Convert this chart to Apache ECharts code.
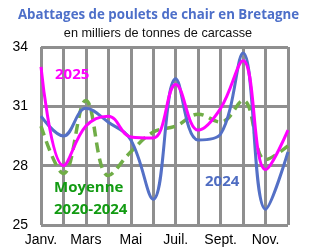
<!DOCTYPE html>
<html>
<head>
<meta charset="utf-8">
<script src="https://cdn.jsdelivr.net/npm/echarts@6/dist/echarts.min.js"></script>
<style>html,body{margin:0;padding:0;background:#fff}#c{width:320px;height:252px}</style>
</head>
<body>
<div id="c"></div>
<script>
const months = ['Janv.', 'Févr.', 'Mars', 'Avr.', 'Mai', 'Juin', 'Juil.', 'Août', 'Sept.', 'Oct.', 'Nov.', 'Déc.'];
const values2025 = [33.0, 28.0, 30.0, 30.5, 29.45, 29.4, 32.1, 29.8, 30.9, 33.3, 27.8, 29.8];
const values2024 = [30.5, 29.5, 30.9, 30.2, 29.3, 26.3, 32.4, 29.3, 29.6, 33.7, 25.8, 28.7];
const valuesAvg = [30.0, 27.6, 31.3, 27.5, 28.7, 29.7, 30.0, 30.6, 30.2, 31.3, 28.3, 29.0];
const yTicks = [25, 28, 31, 34];

const chart = echarts.init(document.getElementById('c'), null, {renderer: 'canvas'});
const grey = '#8f8f8f';
chart.setOption({
  animation: false,
  backgroundColor: '#fff',
  grid: {left: 41, right: 32, top: 47, bottom: 27, containLabel: false},
  graphic: [
    {type: 'text', x: 158.5, y: 15, style: {text: 'Abattages de poulets de chair en Bretagne', fill: '#4d6fc9', font: 'bold 13.3px "Open Sans"', textAlign: 'center', textVerticalAlign: 'middle'}},
    {type: 'text', x: 158, y: 33, style: {text: 'en milliers de tonnes de carcasse', fill: '#111', font: '12.7px "Liberation Sans"', textAlign: 'center', textVerticalAlign: 'middle'}},
    {type: 'text', x: 55, y: 75, z: 10, style: {text: '2025', fill: '#ff00ff', font: 'bold 15px "Open Sans"', textAlign: 'left', textVerticalAlign: 'middle'}},
    {type: 'text', x: 205, y: 182, z: 10, style: {text: '2024', fill: '#4f6dc2', font: 'bold 15px "Open Sans"', textAlign: 'left', textVerticalAlign: 'middle'}},
    {type: 'text', x: 54, y: 187.5, z: 10, style: {text: 'Moyenne', fill: '#129b12', font: 'bold 15px "Open Sans"', textAlign: 'left', textVerticalAlign: 'middle'}},
    {type: 'text', x: 54, y: 209.5, z: 10, style: {text: '2020-2024', fill: '#129b12', font: 'bold 15px "Open Sans"', textAlign: 'left', textVerticalAlign: 'middle'}}
  ],
  xAxis: {
    type: 'category',
    data: months,
    boundaryGap: false,
    axisLine: {show: false},
    axisTick: {show: false},
    axisLabel: {interval: 1, color: '#000', fontSize: 14, fontFamily: 'Liberation Sans', margin: 8},
    splitLine: {show: true, interval: 0, lineStyle: {color: grey, width: 3}}
  },
  yAxis: {
    type: 'value',
    min: yTicks[0],
    max: yTicks[yTicks.length - 1],
    interval: yTicks[1] - yTicks[0],
    axisLine: {show: false},
    axisTick: {show: false},
    axisLabel: {color: '#000', fontSize: 14, fontFamily: 'Liberation Sans', margin: 13},
    splitLine: {show: true, lineStyle: {color: grey, width: 3}}
  },
  series: [
    {name: 'Moyenne 2020-2024', type: 'line', data: valuesAvg, smooth: 0.4, symbol: 'none', z: 2,
     lineStyle: {color: '#70ad47', width: 3.5, type: [10, 6]}},
    {name: '2024', type: 'line', data: values2024, smooth: 0.4, symbol: 'none', z: 3,
     lineStyle: {color: '#5470c6', width: 3}},
    {name: '2025', type: 'line', data: values2025, smooth: 0.4, symbol: 'none', z: 4,
     lineStyle: {color: '#ff00ff', width: 3}}
  ]
});
</script>
</body>
</html>
